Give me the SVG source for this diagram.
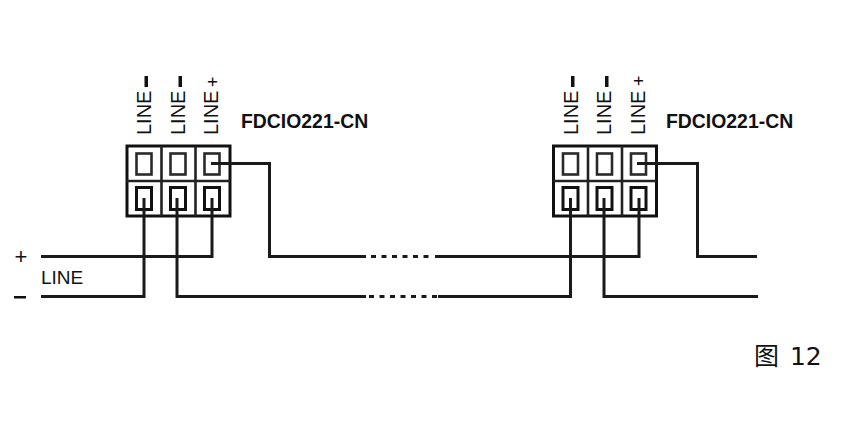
<svg xmlns="http://www.w3.org/2000/svg" width="863" height="421" viewBox="0 0 863 421">
<style>
.bg{fill:#fff}
.box{fill:#fff;stroke:#111;stroke-width:3}
.cell{fill:#fff;stroke:#222;stroke-width:2.600}
.pin{fill:#fff;stroke:#2a2a2a;stroke-width:2.600}
.pinb{fill:#fff;stroke:#111;stroke-width:3}
.w{fill:none;stroke:#1a1a1a;stroke-width:3}
.dash{fill:none;stroke:#1a1a1a;stroke-width:3;stroke-dasharray:5 5.5}
text{font-family:"Liberation Sans",Arial,sans-serif;fill:#111}
.lab{font-size:20px}
.hlab{font-size:19px}
.vplus{font-size:18px}
.plus{font-size:22px}
.name{font-size:19.400px;font-weight:bold}
.cap{font-family:"DejaVu Sans","Noto Sans CJK SC",sans-serif;font-size:25px}
</style>
<defs>
<g id="block">
<rect class="box" x="0" y="0" width="103" height="70"/>
<path class="cell" d="M34.500 0V70M68.500 0V70M0 35H103"/>
<rect class="pin" x="9.500" y="7.500" width="15" height="21"/>
<rect class="pin" x="43.500" y="7.500" width="15" height="21"/>
<rect class="pin" x="77.500" y="7.500" width="15" height="21"/>
<rect class="pinb" x="9.500" y="41.500" width="15" height="22"/>
<rect class="pinb" x="43.500" y="41.500" width="15" height="22"/>
<rect class="pinb" x="77.500" y="41.500" width="15" height="22"/>
</g>
</defs>
<rect class="bg" width="863" height="421"/>
<g id="node-left">
<use href="#block" x="127" y="146"/>
<text class="lab" transform="translate(151,135) rotate(-90)">LINE</text>
<text class="lab" transform="translate(185,135) rotate(-90)">LINE</text>
<text class="lab" transform="translate(218,135) rotate(-90)">LINE</text>
<rect x="144.500" y="76" width="3.500" height="11" fill="#111"/>
<rect x="178.500" y="76" width="3.500" height="11" fill="#111"/>
<text class="vplus" transform="translate(218.500,87) rotate(-90)">+</text>
<text class="name" x="241" y="128">FDCIO221-CN</text>
</g>
<g id="node-right">
<use href="#block" x="553.500" y="146"/>
<text class="lab" transform="translate(578,135) rotate(-90)">LINE</text>
<text class="lab" transform="translate(611,135) rotate(-90)">LINE</text>
<text class="lab" transform="translate(645,135) rotate(-90)">LINE</text>
<rect x="571" y="76" width="3.500" height="11" fill="#111"/>
<rect x="605" y="76" width="3.500" height="11" fill="#111"/>
<text class="vplus" transform="translate(645,86) rotate(-90)">+</text>
<text class="name" x="666" y="128">FDCIO221-CN</text>
</g>
<g id="connectors">
<path class="w" d="M41 256.500H212V198"/>
<path class="w" d="M41 296.500H144V198"/>
<path class="w" d="M177 198V296.500H366"/>
<path class="w" d="M211 163.500H269.500V256.500H366"/>
<path class="dash" d="M371 256.500H432"/>
<path class="dash" d="M369 296.500H438"/>
<path class="w" d="M435 256.500H639V198"/>
<path class="w" d="M438 296.500H570.500V198"/>
<path class="w" d="M604 198V296.500H758"/>
<path class="w" d="M637 163.500H697.500V256.500H757"/>
</g>
<g id="labels">
<text class="plus" x="14.500" y="264">+</text>
<rect x="14" y="296" width="12" height="2.500" fill="#111"/>
<text class="hlab" x="41" y="284">LINE</text>
<text class="cap" y="365"><tspan x="754">图</tspan><tspan x="782"> 12</tspan></text>
</g>
</svg>
